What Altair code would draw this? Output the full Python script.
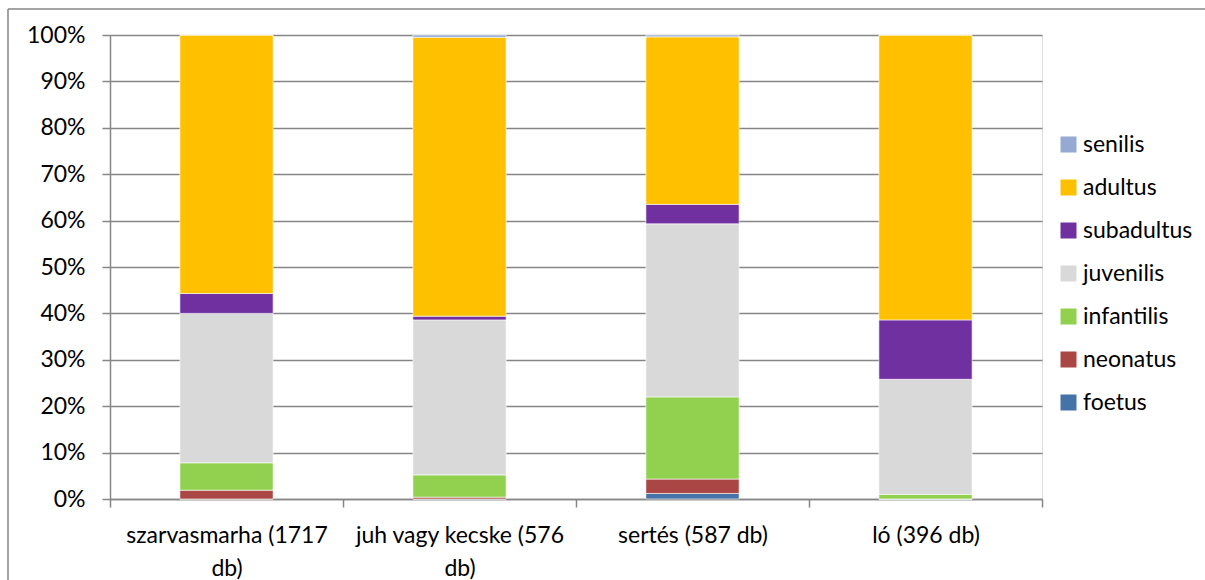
import altair as alt
import pandas as pd

categories = ["szarvasmarha (1717 db)", "juh vagy kecske (576 db)", "sertés (587 db)", "ló (396 db)"]
label_lines = [["szarvasmarha (1717", "db)"], ["juh vagy kecske (576", "db)"], ["sertés (587 db)"], ["ló (396 db)"]]

series = ["senilis", "adultus", "subadultus", "juvenilis", "infantilis", "neonatus", "foetus"]
colors = ["#95A9D3", "#FFC000", "#7030A0", "#D9D9D9", "#92D050", "#AA4643", "#4572A7"]

foetus = [0.0, 0.0, 1.2, 0.0]
neonatus = [1.9, 0.4, 3.1, 0.0]
infantilis = [5.9, 4.8, 17.7, 1.0]
juvenilis = [32.2, 33.4, 37.3, 24.8]
subadultus = [4.3, 0.8, 4.2, 12.8]
adultus = [55.7, 60.1, 36.1, 61.4]
senilis = [0.0, 0.5, 0.4, 0.0]

values = {
    "foetus": foetus, "neonatus": neonatus, "infantilis": infantilis,
    "juvenilis": juvenilis, "subadultus": subadultus, "adultus": adultus,
    "senilis": senilis,
}
stack_order = ["foetus", "neonatus", "infantilis", "juvenilis", "subadultus", "adultus", "senilis"]

rows = []
for i, c in enumerate(categories):
    for k, s in enumerate(stack_order):
        rows.append({"kat": c, "sor": s, "ord": k, "v": values[s][i]})
df = pd.DataFrame(rows)

expr = ""
for c, lines in zip(categories, label_lines):
    arr = "[" + ",".join("'" + l + "'" for l in lines) + "]"
    expr += f"datum.label == '{c}' ? {arr} : "
expr += "datum.label"

FONT = "Lato"
FS = 23
GRID = "#868686"

bars = alt.Chart(df).mark_bar(width={"band": 0.4}, stroke="white", strokeWidth=0.6).encode(
    x=alt.X("kat:N", sort=categories, title=None,
            scale=alt.Scale(paddingInner=0, paddingOuter=0),
            axis=alt.Axis(labelExpr=expr, labelAngle=0, tickBand="extent",
                          domainColor=GRID, tickColor=GRID, tickSize=8, tickWidth=1.5,
                          domainWidth=1.5,
                          labelFont=FONT, labelFontSize=FS, labelColor="black",
                          labelLineHeight=33, labelPadding=17, labelBaseline="top",
                          labelLimit=300, grid=False)),
    y=alt.Y("v:Q", stack="normalize", title=None,
            scale=alt.Scale(domain=[0, 1]),
            axis=alt.Axis(format="%", values=[i / 10 for i in range(11)],
                          domainColor=GRID, tickColor=GRID, tickSize=8, tickWidth=1.5,
                          domainWidth=1.5, gridColor=GRID, gridWidth=1.5,
                          labelFont=FONT, labelFontSize=FS, labelColor="black",
                          labelPadding=17)),
    color=alt.Color("sor:N", scale=alt.Scale(domain=series, range=colors),
                    legend=alt.Legend(title=None, orient="none", legendX=947, legendY=98,
                                      symbolType="square", symbolSize=256,
                                      symbolStrokeWidth=0,
                                      labelFont=FONT, labelFontSize=FS, labelColor="black",
                                      labelOffset=3, rowPadding=19, labelLimit=300)),
    order=alt.Order("ord:Q"),
)

frame_left = alt.Chart(pd.DataFrame({"a": [0]})).mark_rule(color=GRID, strokeWidth=1.5).encode(
    x=alt.value(-102), y=alt.value(-26), y2=alt.value(560))
frame_top = alt.Chart(pd.DataFrame({"a": [0]})).mark_rule(color=GRID, strokeWidth=1.5).encode(
    x=alt.value(-102), x2=alt.value(1095), y=alt.value(-26))

chart = alt.layer(frame_left, frame_top, bars).properties(
    width=932, height=464,
    padding={"left": 110, "top": 35, "right": 163, "bottom": 81},
    autosize=alt.AutoSizeParams(type="none"),
).configure_view(stroke=None).configure(background="white")

chart.save("out.html", embed_options={"renderer": "svg", "actions": False})
